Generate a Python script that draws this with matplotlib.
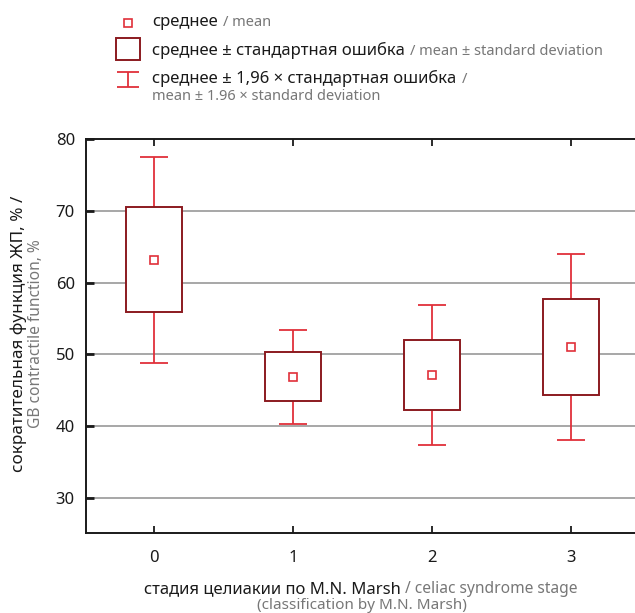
import matplotlib
matplotlib.use('Agg')
import matplotlib.pyplot as plt
from matplotlib.patches import Rectangle

# data
stages = [0, 1, 2, 3]
stage_labels = ['0', '1', '2', '3']
means = [63.1, 46.9, 47.1, 51.0]
box_lo = [55.9, 43.5, 42.2, 44.3]     # mean - SE
box_hi = [70.5, 50.3, 52.0, 57.7]     # mean + SE
whisk_lo = [48.8, 40.3, 37.4, 38.1]   # mean - 1.96 SE
whisk_hi = [77.5, 53.4, 56.8, 64.0]   # mean + 1.96 SE
y_ticks = [30, 40, 50, 60, 70, 80]

box_col = '#8b1a1f'
err_col = '#e0303a'
dark = '#1a1a1a'
gray = '#777777'
grid_col = '#a0a0a0'

plt.rcParams['font.family'] = ['Noto Sans', 'DejaVu Sans']

W, H = 635, 613
fig = plt.figure(figsize=(W / 100, H / 100), dpi=100)
ax = fig.add_axes([86 / W, 80 / H, 549 / W, 394 / H])

# error bars (1.96 SE) and SE boxes
for s, lo, hi, wl, wh in zip(stages, box_lo, box_hi, whisk_lo, whisk_hi):
    ax.vlines(s, wl, lo, color=err_col, lw=1.3, zorder=2)
    ax.vlines(s, hi, wh, color=err_col, lw=1.3, zorder=2)
    ax.hlines([wl, wh], s - 0.1, s + 0.1, color=err_col, lw=1.3, zorder=2)
    ax.add_patch(Rectangle((s - 0.2, lo), 0.4, hi - lo, facecolor='white',
                           edgecolor=box_col, lw=1.4, zorder=3))

ax.plot(stages, means, 's', ms=5.5, mfc='white', mec=err_col, mew=1.2,
        zorder=4, linestyle='none')

ax.set_xlim(-0.49, 3.46)
ax.set_ylim(25.1, 80)
ax.set_xticks(stages)
ax.set_xticklabels(stage_labels)
ax.set_yticks(y_ticks)
for v in y_ticks[:-1]:
    ax.axhline(v, color=grid_col, lw=1.3, zorder=1)

ax.spines['right'].set_visible(False)
for sp in ['left', 'top', 'bottom']:
    ax.spines[sp].set_linewidth(1.4)
    ax.spines[sp].set_color(dark)
ax.tick_params(axis='x', direction='in', length=5, width=1.3, top=True,
               labelsize=12, colors=dark, pad=12)
ax.tick_params(axis='y', direction='in', length=6, width=2, labelsize=12,
               colors=dark, pad=8)

# overlay in pixel coords for labels and legend
lax = fig.add_axes([0, 0, 1, 1], zorder=-1)
lax.set_xlim(0, W)
lax.set_ylim(H, 0)
lax.axis('off')
lax.patch.set_visible(False)


def two_part(x, y, t1, t2, size1=12, size2=10.5):
    a = lax.text(x, y, t1, fontsize=size1, color=dark, va='baseline', ha='left')
    lax.annotate(t2, xy=(1, y), xycoords=(a, 'data'), xytext=(4, 0),
                 textcoords='offset points', fontsize=size2, color=gray,
                 va='baseline', ha='left')


# legend
lx = 128
lax.add_patch(Rectangle((lx - 4, 18.5), 8, 8, facecolor='white',
                        edgecolor=err_col, lw=1.2))
lax.add_patch(Rectangle((lx - 12, 37.5), 24, 22, facecolor='white',
                        edgecolor=box_col, lw=1.4))
lax.vlines(lx, 72, 87, color=err_col, lw=1.3)
lax.hlines([72, 87], lx - 11, lx + 11, color=err_col, lw=1.3)

two_part(152, 26, 'среднее', '/ mean')
two_part(152, 55, 'среднее ± стандартная ошибка', '/ mean ± standard deviation')
two_part(152, 83, 'среднее ± 1,96 × стандартная ошибка', '/')
lax.text(152, 100, 'mean ± 1.96 × standard deviation', fontsize=10.5,
         color=gray, va='baseline', ha='left')

# x label
lax.text(401, 593, 'стадия целиакии по M.N. Marsh', fontsize=12, color=dark,
         ha='right', va='baseline')
lax.text(405, 593, '/ celiac syndrome stage', fontsize=11.2, color=gray,
         ha='left', va='baseline')
lax.text(362, 609, '(classification by M.N. Marsh)', fontsize=11, color=gray,
         ha='center', va='baseline')

# y label
lax.text(19, 334, 'сократительная функция ЖП, % /', fontsize=12.3, color=dark,
         rotation=90, ha='center', va='center')
lax.text(36, 334, 'GB contractile function, %', fontsize=11.2, color=gray,
         rotation=90, ha='center', va='center')

fig.savefig('out.png', dpi=100)
